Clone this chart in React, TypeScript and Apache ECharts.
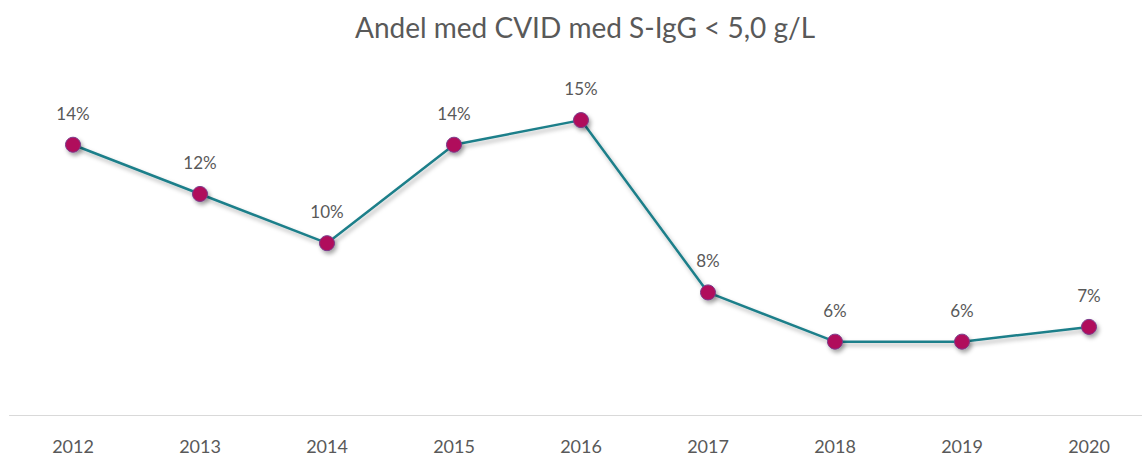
import React, { useEffect, useRef } from "react";
import * as echarts from "echarts";

const years = ["2012", "2013", "2014", "2015", "2016", "2017", "2018", "2019", "2020"];
const shares = [14, 12, 10, 14, 15, 8, 6, 6, 6.6];
const titleText = "Andel med CVID med S-IgG < 5,0 g/L";

export default function App() {
  const ref = useRef<HTMLDivElement>(null);
  useEffect(() => {
    if (!ref.current) return;
    const chart = echarts.init(ref.current, null, { renderer: "svg" });
    chart.setOption({
      animation: false,
      backgroundColor: "#ffffff",
      title: {
        text: titleText,
        left: 350,
        top: 8,
        textStyle: { fontFamily: "Lato", fontSize: 28, fontWeight: "normal", color: "#595959" },
      },
      grid: { left: 9.5, width: 1143, top: 95.5, bottom: 42.5 },
      xAxis: {
        type: "category",
        data: years,
        boundaryGap: true,
        axisLine: { lineStyle: { color: "#d9d9d9", width: 1 } },
        axisTick: { show: false },
        axisLabel: { color: "#595959", fontFamily: "Lato", fontSize: 18, margin: 21 },
      },
      yAxis: {
        type: "value",
        min: 3,
        max: 16,
        show: false,
        splitLine: { show: false },
      },
      series: [
        {
          type: "line",
          data: shares,
          symbol: "circle",
          symbolSize: 15,
          lineStyle: {
            color: "#1f7f8a",
            width: 2.5,
            shadowColor: "rgba(0,0,0,0.3)",
            shadowBlur: 4,
            shadowOffsetX: 2,
            shadowOffsetY: 3,
          },
          itemStyle: {
            color: "#b0115c",
            borderColor: "#7a3a8a",
            borderWidth: 1,
            shadowColor: "rgba(0,0,0,0.35)",
            shadowBlur: 4,
            shadowOffsetX: 2,
            shadowOffsetY: 3,
          },
          label: {
            show: true,
            position: "top",
            distance: 15,
            color: "#595959",
            fontFamily: "Lato",
            fontSize: 17,
            formatter: (p: any) => Math.round(p.value) + "%",
          },
        },
      ],
    });
    return () => chart.dispose();
  }, []);
  return (
    <div style={{ position: "fixed", left: 0, top: 0, width: 1142, height: 458, overflow: "hidden", background: "#fff" }}>
      <div ref={ref} style={{ width: 1170, height: 458 }} />
    </div>
  );
}
